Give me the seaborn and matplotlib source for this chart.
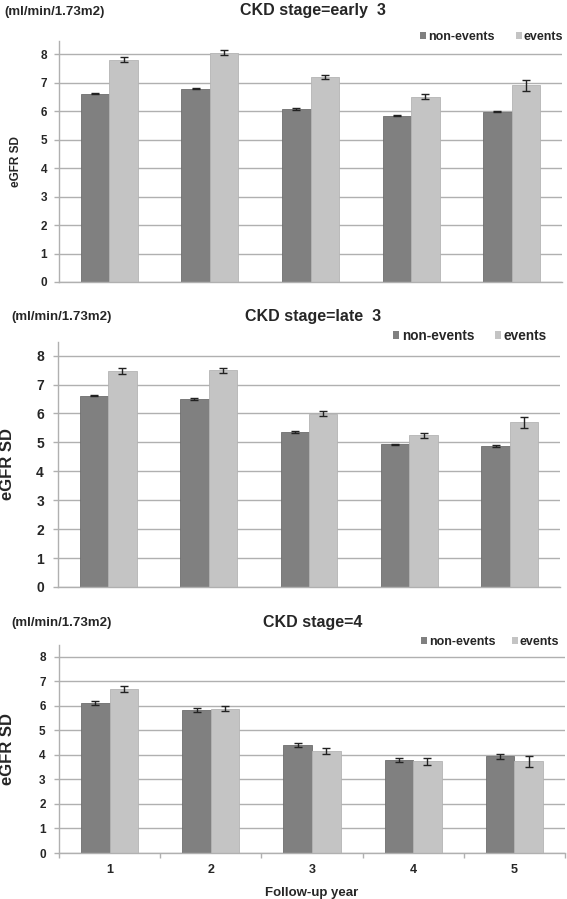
import pandas as pd
import matplotlib.pyplot as plt
import seaborn as sns

years = ['1', '2', '3', '4', '5']
groups = ['non-events', 'events']
titles = ['CKD stage=early  3', 'CKD stage=late  3', 'CKD stage=4']

early_non = [6.61, 6.79, 6.08, 5.85, 5.99]
early_ev = [7.81, 8.06, 7.19, 6.51, 6.91]
early_non_err = [0.02, 0.02, 0.02, 0.02, 0.03]
early_ev_err = [0.09, 0.08, 0.07, 0.08, 0.20]

late_non = [6.62, 6.49, 5.37, 4.93, 4.88]
late_ev = [7.47, 7.49, 5.99, 5.24, 5.69]
late_non_err = [0.03, 0.03, 0.03, 0.03, 0.03]
late_ev_err = [0.11, 0.08, 0.08, 0.08, 0.18]

s4_non = [6.11, 5.83, 4.39, 3.78, 3.93]
s4_ev = [6.68, 5.88, 4.16, 3.73, 3.73]
s4_non_err = [0.09, 0.09, 0.07, 0.08, 0.12]
s4_ev_err = [0.13, 0.11, 0.13, 0.13, 0.24]

panels = [
    (early_non, early_ev, early_non_err, early_ev_err),
    (late_non, late_ev, late_non_err, late_ev_err),
    (s4_non, s4_ev, s4_non_err, s4_ev_err),
]

colors = ['#808080', '#c4c4c4']
edges = ['#6e6e6e', '#b4b4b4']
grid_c = '#b0b0b0'

sns.set_style('white')
plt.rcParams['font.family'] = ['Liberation Sans', 'DejaVu Sans']
plt.rcParams['font.weight'] = 'bold'

W, H = 567, 899
fig = plt.figure(figsize=(W / 100, H / 100), dpi=100)

# per panel layout, in pixels
boxes = [(59, 562, 41, 282), (58, 560, 342, 587), (59, 565, 645, 853)]  # l, r, t, b
title_y = [11, 317, 622]
unit_y = [12, 317, 623]
unit_x = [4, 11, 11]
ylab_edge = [22, 15, 15]
ylab_size = [8.5, 12, 12]
ytick_size = [8.5, 10, 8.5]
ytick_pad = [5, 6.5, 6]
leg_x = [420, 393, 421]
leg_y = [37, 336, 642]
leg_size = [9, 9.8, 9]
leg_gap = [1.7, 1.5, 1.3]

for k, (non, ev, non_err, ev_err) in enumerate(panels):
    l, r, t, b = boxes[k]
    ax = fig.add_axes([l / W, 1 - b / H, (r - l) / W, (b - t) / H])
    df = pd.DataFrame({
        'year': years * 2,
        'group': [groups[0]] * 5 + [groups[1]] * 5,
        'value': non + ev,
    })
    sns.barplot(data=df, x='year', y='value', hue='group', palette=colors,
                width=0.565, errorbar=None, ax=ax, linewidth=0.6, saturation=1)
    for cont, err, ec in zip(ax.containers, [non_err, ev_err], edges):
        for bar, e in zip(cont, err):
            bar.set_edgecolor(ec)
            xc = bar.get_x() + bar.get_width() / 2
            ax.errorbar(xc, bar.get_height(), yerr=e, color='#222222',
                        elinewidth=1.0, capsize=3, capthick=1.0, zorder=5)

    ax.set_ylim(0, 8.47)
    ax.set_xlim(-0.5, 4.5)
    ax.set_yticks(range(0, 9))
    ax.yaxis.grid(True, color=grid_c, linewidth=1.0)
    ax.set_axisbelow(True)
    for s in ['top', 'right']:
        ax.spines[s].set_visible(False)
    for s in ['left', 'bottom']:
        ax.spines[s].set_color(grid_c)
        ax.spines[s].set_linewidth(1.0)
    ax.tick_params(axis='y', labelsize=ytick_size[k], length=3.6, width=1.0,
                   color=grid_c, left=True, pad=ytick_pad[k])
    ax.set_ylabel('eGFR SD', fontsize=ylab_size[k], fontweight='bold')
    ax.yaxis.set_label_coords((ylab_edge[k] - l) / (r - l), 0.5)

    if k == 2:
        ax.set_xticks([-0.5, 0.5, 1.5, 2.5, 3.5, 4.5], minor=True)
        ax.tick_params(axis='x', which='minor', length=3.5, width=1.0,
                       color=grid_c, bottom=True)
        ax.tick_params(axis='x', which='major', length=0, labelsize=9, pad=8)
        ax.set_xlabel('Follow-up year', fontsize=9.5, fontweight='bold', labelpad=8)
    else:
        ax.set_xticks([])
        ax.set_xlabel('')

    ax.legend(loc='center left', bbox_to_anchor=(leg_x[k] / W, 1 - leg_y[k] / H),
              bbox_transform=fig.transFigure, ncol=2, frameon=False,
              handlelength=0.45, handleheight=0.45, handletextpad=0.2,
              columnspacing=leg_gap[k], borderaxespad=0, borderpad=0,
              prop={'weight': 'bold', 'size': leg_size[k]})
    for h in ax.get_legend().legend_handles:
        h.set_linewidth(0)

    fig.text(313 / W, 1 - title_y[k] / H, titles[k], ha='center', va='center',
             fontsize=11.5, fontweight='bold')
    fig.text(unit_x[k] / W, 1 - unit_y[k] / H, '(ml/min/1.73m2)', ha='left', va='center',
             fontsize=9.5, fontweight='bold')

fig.savefig('out.png', dpi=100)
